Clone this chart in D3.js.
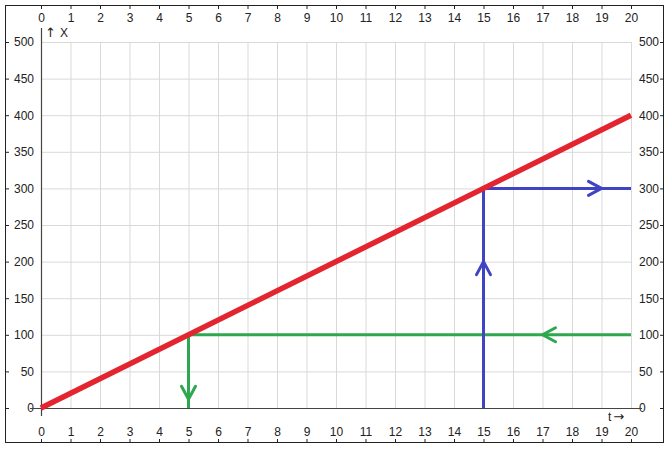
<!DOCTYPE html>
<html>
<head>
<meta charset="utf-8">
<script src="https://cdn.jsdelivr.net/npm/d3@7"></script>
<style>
  body { margin: 0; background: #fff; }
  text { font-family: "Liberation Sans", Arial, sans-serif; font-size: 12px; fill: #222; }
  .glyph { font-family: "DejaVu Sans", sans-serif; font-size: 13px; }
</style>
</head>
<body>
<div id="chart"></div>
<script>
// data
const tTicks = d3.range(0, 21);
const xTicks = d3.range(0, 501, 50);
const lawT = [0, 20];
const lawX = [0, 400];
// green path: read 100 on the right axis, go to the line, drop to t
const greenT = [20, 5, 5];
const greenX = [100, 100, 0];
const greenArrows = [{ t: 17, x: 100, dir: 'left' }, { t: 5, x: 12, dir: 'down' }];
// blue path: from t = 15 up to the line, then across to the right axis
const blueT = [15, 15, 20];
const blueX = [0, 300, 300];
const blueArrows = [{ t: 15, x: 200, dir: 'up' }, { t: 19, x: 300, dir: 'right' }];

const W = 669, H = 450;
const RED = '#e32530', GREEN = '#2ea84e', BLUE = '#3f43c4';

const svg = d3.select('#chart').append('svg')
    .attr('width', W).attr('height', H);

const x = d3.scaleLinear().domain([0, 20]).range([41, 631]);
const y = d3.scaleLinear().domain([0, 500]).range([408, 42]);

// frame
svg.append('rect')
    .attr('x', 5.5).attr('y', 5.5)
    .attr('width', 658).attr('height', 437)
    .attr('fill', 'none').attr('stroke', '#222');

// grid
svg.append('g').selectAll('line').data(tTicks).enter().append('line')
    .attr('x1', d => x(d) + 0.5).attr('x2', d => x(d) + 0.5)
    .attr('y1', y(500)).attr('y2', y(0))
    .attr('stroke', '#d9d9d9');
svg.append('g').selectAll('line').data(xTicks).enter().append('line')
    .attr('x1', x(0)).attr('x2', x(20))
    .attr('y1', d => y(d) + 0.5).attr('y2', d => y(d) + 0.5)
    .attr('stroke', '#d9d9d9');

// tick axes on the frame
const axTop = svg.append('g').attr('transform', 'translate(0,6)')
    .call(d3.axisBottom(x).tickValues(tTicks).tickSize(3));
const axBottom = svg.append('g').attr('transform', 'translate(0,442)')
    .call(d3.axisTop(x).tickValues(tTicks).tickSize(3));
const axLeft = svg.append('g').attr('transform', 'translate(6,0)')
    .call(d3.axisRight(y).tickValues(xTicks).tickSize(3));
const axRight = svg.append('g').attr('transform', 'translate(663,0)')
    .call(d3.axisLeft(y).tickValues(xTicks).tickSize(3));
[axTop, axBottom, axLeft, axRight].forEach(g => {
    g.select('.domain').remove();
    g.selectAll('line').attr('stroke', '#222');
    g.selectAll('text').attr('font-family', null).attr('font-size', null).attr('fill', null);
});
axTop.selectAll('text').attr('y', 6).attr('dy', '0.85em');
axBottom.selectAll('text').attr('y', -5).attr('dy', '-0.1em');
axLeft.selectAll('text').attr('text-anchor', 'end').attr('x', 28);
axRight.selectAll('text').attr('text-anchor', 'start').attr('x', -24);

// main axes
svg.append('line')
    .attr('x1', 30).attr('x2', 642)
    .attr('y1', y(0) + 0.5).attr('y2', y(0) + 0.5)
    .attr('stroke', '#444').attr('stroke-width', 1.2);
svg.append('line')
    .attr('x1', x(0) + 0.5).attr('x2', x(0) + 0.5)
    .attr('y1', 28).attr('y2', 416)
    .attr('stroke', '#444').attr('stroke-width', 1.2);

const yLab = svg.append('text').attr('x', 45).attr('y', 37);
yLab.append('tspan').attr('class', 'glyph').text('\u2191');
yLab.append('tspan').attr('dx', 4).text('X');
const xLab = svg.append('text').attr('x', 608).attr('y', 421);
xLab.append('tspan').text('t');
xLab.append('tspan').attr('class', 'glyph').attr('dx', 2).text('\u2192');

const line = d3.line().x(d => x(d[0])).y(d => y(d[1]));

function drawPath(ts, xs, color, width) {
    svg.append('path')
        .attr('d', line(d3.zip(ts, xs)))
        .attr('fill', 'none')
        .attr('stroke', color)
        .attr('stroke-width', width)
        .attr('stroke-linejoin', 'round');
}

const ang = { left: 180, right: 0, up: -90, down: 90 };
function drawArrows(arrows, color) {
    arrows.forEach(a => {
        svg.append('path')
            .attr('d', 'M-13,-7 L0,0 L-13,7')
            .attr('transform', `translate(${x(a.t)},${y(a.x)}) rotate(${ang[a.dir]})`)
            .attr('fill', 'none')
            .attr('stroke', color)
            .attr('stroke-width', 3)
            .attr('stroke-linecap', 'round')
            .attr('stroke-linejoin', 'round');
    });
}

drawPath(greenT, greenX, GREEN, 3);
drawArrows(greenArrows, GREEN);
drawPath(blueT, blueX, BLUE, 3);
drawArrows(blueArrows, BLUE);
drawPath(lawT, lawX, RED, 5.5);
</script>
</body>
</html>
